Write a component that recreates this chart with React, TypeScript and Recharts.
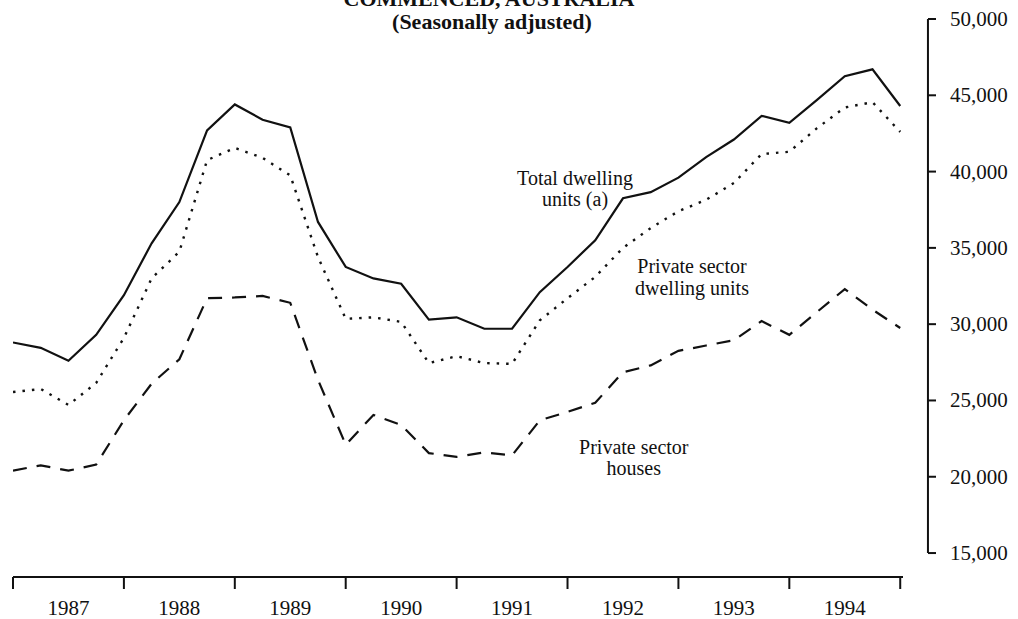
import React from 'react';
import { LineChart, Line, XAxis, YAxis, ReferenceLine, ReferenceDot } from 'recharts';

// Quarter index (33 quarterly observations, 1987–1994)
const QUARTER = [0, 1, 2, 3, 4, 5, 6, 7, 8, 9, 10, 11, 12, 13, 14, 15, 16, 17, 18, 19, 20, 21, 22, 23, 24, 25, 26, 27, 28, 29, 30, 31, 32];

const TOTAL = [28800, 28450, 27600, 29300, 31900, 35300, 38000, 42700, 44400, 43400, 42900, 36700, 33750, 33000, 32650, 30300, 30450, 29700, 29700, 32100, 33750, 35500, 38250, 38650, 39600, 40950, 42100, 43650, 43200, 44700, 46250, 46700, 44300];

const PRIVATE_UNITS = [25550, 25750, 24700, 26150, 29100, 33000, 34750, 40750, 41550, 40900, 39750, 34400, 30350, 30450, 30150, 27450, 27900, 27450, 27400, 30250, 31700, 33100, 35000, 36300, 37400, 38150, 39250, 41150, 41300, 42850, 44200, 44550, 42600];

const HOUSES = [20400, 20750, 20400, 20800, 23700, 26100, 27700, 31700, 31750, 31850, 31400, 26350, 22100, 24050, 23400, 21550, 21300, 21600, 21400, 23700, 24250, 24850, 26850, 27300, 28250, 28600, 28950, 30200, 29300, 30800, 32300, 30950, 29750];

const YEAR_LABELS = ['1987', '1988', '1989', '1990', '1991', '1992', '1993', '1994'];
const X_TICKS = [0, 2, 4, 6, 8, 10, 12, 14, 16, 18, 20, 22, 24, 26, 28, 30, 32];
const Y_TICKS = [15000, 20000, 25000, 30000, 35000, 40000, 45000, 50000];

const TITLE_LINES = ['COMMENCED, AUSTRALIA', '(Seasonally adjusted)'];

const ANNOTATIONS = [
  { q: 20.27, v: 38890, lines: ['Total dwelling', 'units (a)'] },
  { q: 24.49, v: 33100, lines: ['Private sector', 'dwelling units'] },
  { q: 22.39, v: 21250, lines: ['Private sector', 'houses'] },
];

const data = QUARTER.map((q, i) => ({
  q,
  total: TOTAL[i],
  privateUnits: PRIVATE_UNITS[i],
  houses: HOUSES[i],
}));

const FONT = '"Liberation Serif", "Times New Roman", Times, serif';
const INK = '#111';

function XTick(props: any) {
  const { x, y, payload } = props;
  const v = payload.value;
  if (v % 4 === 0) {
    return <line x1={x} y1={y} x2={x} y2={y + 12} stroke={INK} strokeWidth={2} />;
  }
  const label = YEAR_LABELS[(v - 2) / 4];
  return (
    <text x={x} y={y + 31} textAnchor="middle" dominantBaseline="central" fontFamily={FONT} fontSize={21} fill={INK}>
      {label}
    </text>
  );
}

function YTick(props: any) {
  const { x, y, payload } = props;
  return (
    <g>
      <line x1={x + 25} y1={y} x2={x + 33} y2={y} stroke={INK} strokeWidth={2} />
      <text x={x + 47} y={y} textAnchor="start" dominantBaseline="central" fontFamily={FONT} fontSize={21} fill={INK}>
        {Number(payload.value).toLocaleString('en-US')}
      </text>
    </g>
  );
}

function makeAnnotationLabel(lines: string[]) {
  return (props: any) => {
    const vb = props.viewBox || {};
    const cx = (vb.x || 0) + (vb.width || 0) / 2;
    const cy = (vb.y || 0) + (vb.height || 0) / 2;
    return (
      <text textAnchor="middle" fontFamily={FONT} fontSize={20} fill={INK}>
        {lines.map((l, i) => (
          <tspan key={i} x={cx} y={cy + (i - (lines.length - 1) / 2) * 21.5} dominantBaseline="central">
            {l}
          </tspan>
        ))}
      </text>
    );
  };
}

export default function App() {
  return (
    <div style={{ position: 'absolute', left: 0, top: 0, width: 1018, height: 619, background: '#fff' }}>
      <LineChart width={1018} height={619} data={data} margin={{ top: 19, right: 15, bottom: 0, left: 13 }}>
        <XAxis
          dataKey="q"
          type="number"
          domain={[0, 32.1]}
          ticks={X_TICKS}
          interval={0}
          tickLine={false}
          tickSize={0}
          tickMargin={0}
          height={42}
          axisLine={{ stroke: INK, strokeWidth: 2 }}
          tick={<XTick />}
          allowDataOverflow
        />
        <YAxis
          orientation="right"
          domain={[13430, 50000]}
          ticks={Y_TICKS}
          interval={0}
          width={100}
          axisLine={false}
          tickLine={false}
          tickSize={0}
          tickMargin={0}
          tick={<YTick />}
          allowDataOverflow
        />
        <ReferenceLine
          segment={[{ x: 33.0, y: 15000 }, { x: 33.0, y: 50000 }]}
          stroke={INK}
          strokeWidth={2}
          ifOverflow="visible"
        />
        <Line dataKey="total" stroke={INK} strokeWidth={2.2} dot={false} isAnimationActive={false} strokeLinejoin="miter" />
        <Line dataKey="privateUnits" stroke={INK} strokeWidth={2.4} strokeDasharray="2.5 7" dot={false} isAnimationActive={false} />
        <Line dataKey="houses" stroke={INK} strokeWidth={2.2} strokeDasharray="14 10" dot={false} isAnimationActive={false} />
        {ANNOTATIONS.map((a, i) => (
          <ReferenceDot
            key={i}
            x={a.q}
            y={a.v}
            r={0}
            fill="none"
            stroke="none"
            ifOverflow="visible"
            label={{ content: makeAnnotationLabel(a.lines) }}
          />
        ))}
      </LineChart>
      <svg width={1018} height={619} style={{ position: 'absolute', left: 0, top: 0, pointerEvents: 'none' }}>
        <text x={489} y={6} textAnchor="middle" fontFamily={FONT} fontWeight="bold" fontSize={22} fill={INK}>
          {TITLE_LINES[0]}
        </text>
        <text x={492} y={29} textAnchor="middle" fontFamily={FONT} fontWeight="bold" fontSize={22} fill={INK}>
          {TITLE_LINES[1]}
        </text>
      </svg>
    </div>
  );
}
